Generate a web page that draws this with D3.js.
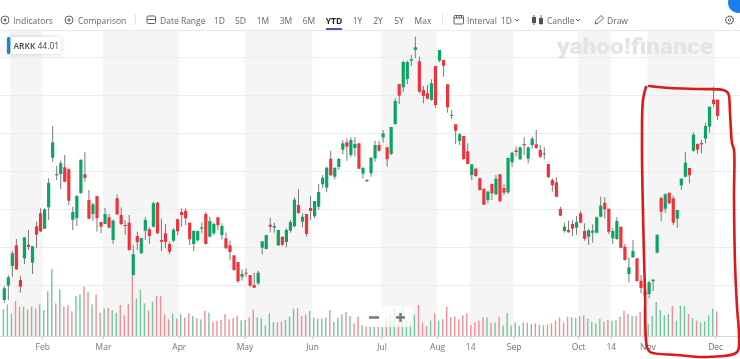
<!DOCTYPE html>
<html>
<head>
<meta charset="utf-8">
<script src="https://cdn.jsdelivr.net/npm/d3@7"></script>
<style>
html, body { margin: 0; padding: 0; background: #fff; }
svg { display: block; font-family: "Open Sans", sans-serif; filter: blur(0.35px); }
</style>
</head>
<body>
<div id="chart"></div>
<script>
// ARKK daily candles (price axis is cropped, so levels are estimates)
const opens = [
  25.60, 27.03, 29.00, 31.07, 27.60, 29.77, 31.13, 29.33, 32.97, 34.27,
  32.73, 34.87, 39.83, 38.07, 38.20, 38.87, 38.67, 33.63, 33.80, 36.30,
  38.17, 35.60, 34.20, 36.00, 33.40, 33.20, 33.87, 31.60, 35.77, 34.10,
  33.10, 33.33, 28.07, 32.00, 30.27, 32.53, 32.67, 32.93, 35.33, 31.60,
  32.27, 31.20, 31.53, 33.67, 34.40, 34.53, 33.33, 31.20, 31.57, 32.73,
  34.20, 31.93, 32.27, 33.87, 32.10, 31.77, 31.07, 30.07, 29.40, 27.93,
  28.33, 28.10, 27.10, 27.27, 30.83, 30.70, 33.13, 32.83, 31.07, 31.93,
  31.40, 32.53, 32.97, 35.10, 33.43, 34.20, 34.80, 33.97, 34.93, 37.17,
  36.83, 39.73, 37.93, 38.90, 40.63, 41.37, 40.10, 40.80, 41.27, 38.23,
  37.47, 38.27, 39.77, 41.10, 41.87, 40.87, 40.20, 43.20, 47.20, 46.87,
  47.70, 49.53, 50.60, 49.47, 46.60, 46.27, 45.60, 49.00, 49.53, 49.60,
  47.17, 44.00, 43.17, 41.50, 42.00, 40.47, 38.10, 38.73, 37.77, 36.73,
  35.60, 37.20, 36.17, 38.17, 36.80, 36.37, 39.37, 40.57, 39.67, 41.20,
  39.73, 41.10, 41.17, 40.60, 40.27, 39.20, 37.60, 37.37, 34.70, 32.50,
  32.60, 33.20, 32.83, 34.27, 32.50, 31.93, 32.33, 32.33, 33.93, 35.33,
  34.73, 31.77, 31.70, 32.93, 30.93, 28.20, 29.87, 29.77, 27.53, 26.43,
  26.20, 27.47, 30.33, 35.80, 34.73, 36.33, 35.77, 33.73, 37.07, 37.93,
  38.80, 40.53, 41.20, 41.30, 41.73, 42.93, 45.63, 45.63
];
const closes = [
  26.77, 27.87, 30.27, 28.67, 26.93, 31.87, 30.90, 30.97, 32.13, 32.47,
  34.67, 37.30, 41.37, 38.20, 39.27, 37.43, 35.53, 34.40, 36.00, 39.63,
  37.80, 33.73, 35.17, 33.77, 32.93, 34.20, 32.83, 33.53, 34.17, 33.20,
  33.07, 30.60, 30.17, 31.40, 31.80, 33.60, 32.00, 35.27, 32.27, 31.43,
  31.40, 30.43, 32.63, 32.47, 34.10, 33.77, 31.67, 32.53, 32.50, 32.87,
  31.20, 33.50, 33.20, 33.07, 33.00, 30.77, 30.40, 28.60, 27.47, 28.20,
  28.23, 27.03, 26.83, 28.33, 31.47, 32.10, 32.93, 33.00, 32.60, 31.13,
  32.60, 33.40, 35.63, 34.30, 33.93, 32.20, 34.50, 35.50, 36.40, 37.83,
  38.83, 38.07, 38.83, 39.70, 41.27, 40.93, 41.60, 41.20, 38.73, 38.80,
  37.60, 39.83, 41.10, 40.53, 42.27, 39.67, 42.90, 45.50, 46.03, 49.40,
  49.40, 49.67, 50.87, 46.43, 46.00, 45.73, 47.27, 45.10, 50.60, 49.03,
  44.87, 44.10, 42.53, 42.17, 39.70, 39.20, 39.17, 38.00, 36.60, 35.13,
  36.43, 36.27, 37.73, 35.47, 36.33, 39.80, 40.33, 40.40, 40.87, 41.07,
  40.87, 41.73, 40.80, 39.93, 40.20, 37.87, 37.07, 35.93, 34.03, 32.93,
  32.37, 32.73, 33.40, 33.33, 31.73, 32.57, 32.53, 33.87, 35.03, 34.67,
  32.43, 32.50, 33.50, 30.83, 29.60, 28.87, 30.50, 27.50, 26.80, 26.10,
  27.37, 27.63, 32.13, 34.43, 36.17, 35.27, 33.33, 34.60, 37.73, 39.33,
  38.07, 42.13, 40.63, 41.17, 43.00, 44.93, 45.20, 44.01
];
const highs = [
  27.00, 28.10, 30.50, 31.70, 28.03, 31.87, 32.60, 30.97, 33.43, 34.77,
  34.77, 37.77, 43.00, 39.00, 39.53, 40.10, 38.77, 34.93, 36.10, 39.63,
  40.40, 36.60, 35.33, 36.00, 33.40, 34.80, 34.20, 33.67, 36.17, 34.87,
  33.60, 34.10, 31.10, 32.43, 31.80, 33.87, 32.87, 35.43, 35.43, 33.73,
  33.20, 31.43, 32.77, 33.73, 34.77, 34.77, 33.33, 32.53, 32.50, 33.37,
  34.43, 33.93, 33.33, 33.93, 33.27, 32.33, 31.53, 30.07, 29.40, 28.67,
  28.77, 28.10, 28.33, 28.53, 31.47, 32.10, 33.83, 33.33, 32.60, 31.93,
  32.77, 33.60, 35.87, 36.67, 34.27, 34.20, 36.00, 35.50, 37.20, 38.10,
  38.93, 40.53, 38.83, 39.80, 41.60, 41.77, 41.87, 41.87, 41.27, 38.93,
  37.67, 39.87, 41.53, 41.53, 42.60, 40.87, 42.90, 45.77, 47.20, 49.53,
  49.53, 50.10, 51.93, 49.93, 47.00, 47.10, 47.67, 49.00, 50.60, 49.60,
  47.17, 44.60, 43.17, 42.27, 42.00, 41.27, 39.17, 38.83, 37.83, 36.73,
  36.53, 37.20, 38.10, 38.17, 37.17, 39.87, 40.43, 40.93, 40.93, 41.87,
  40.93, 41.93, 42.60, 41.10, 40.87, 39.20, 37.77, 37.87, 34.93, 33.33,
  33.53, 33.60, 34.00, 34.53, 33.27, 32.67, 33.17, 33.93, 35.93, 35.87,
  34.73, 32.77, 33.87, 32.93, 31.20, 29.87, 31.60, 29.77, 28.10, 26.87,
  27.50, 27.70, 32.13, 35.93, 36.27, 36.33, 36.03, 34.60, 37.73, 40.43,
  38.83, 42.37, 41.27, 41.60, 43.33, 44.93, 46.93, 45.63
];
const lows = [
  25.33, 25.60, 27.93, 28.60, 26.33, 29.20, 30.60, 28.20, 30.77, 32.40,
  32.70, 33.60, 39.43, 37.60, 36.70, 37.37, 35.10, 32.60, 33.00, 36.20,
  37.43, 33.67, 33.53, 32.43, 32.27, 33.20, 32.77, 31.20, 34.10, 33.10,
  32.10, 30.53, 28.07, 30.60, 30.20, 31.60, 31.20, 32.87, 32.20, 30.50,
  30.77, 30.17, 31.43, 32.10, 32.93, 33.10, 31.10, 30.50, 31.43, 32.27,
  31.13, 31.87, 32.10, 32.60, 31.67, 30.70, 29.60, 28.53, 27.33, 27.53,
  27.93, 26.93, 26.77, 27.10, 30.17, 30.67, 32.37, 32.33, 31.00, 31.00,
  30.87, 32.33, 32.87, 34.23, 32.87, 31.93, 33.60, 33.77, 34.60, 36.77,
  36.37, 38.00, 37.67, 38.60, 40.17, 39.53, 39.87, 39.93, 38.67, 37.77,
  37.43, 37.93, 39.43, 40.43, 41.33, 38.93, 40.10, 43.10, 45.20, 46.40,
  47.17, 49.00, 49.80, 46.27, 45.27, 45.67, 45.53, 44.83, 49.37, 47.93,
  44.33, 43.67, 41.20, 41.10, 39.60, 39.17, 37.60, 37.93, 36.53, 35.10,
  35.27, 35.60, 36.10, 35.43, 36.10, 36.20, 38.93, 39.93, 39.60, 40.10,
  39.27, 40.77, 40.73, 39.77, 39.67, 37.83, 36.43, 35.87, 34.03, 32.33,
  32.33, 32.00, 32.10, 33.27, 31.53, 31.10, 31.33, 32.27, 33.87, 33.77,
  32.20, 31.20, 31.60, 30.80, 29.53, 27.37, 29.80, 27.43, 26.27, 25.33,
  25.77, 26.50, 30.27, 33.50, 34.33, 35.20, 33.10, 32.83, 36.60, 37.87,
  37.27, 40.43, 40.20, 40.27, 41.27, 42.33, 44.93, 43.60
];
const volumes = [
  8.0, 9.5, 6.7, 10.5, 8.8, 8.8, 8.0, 8.8, 8.2, 9.5,
  7.8, 13.4, 20.1, 9.8, 14.0, 8.8, 9.2, 7.4, 12.0, 12.5,
  14.8, 13.3, 9.5, 12.5, 7.0, 8.2, 8.4, 7.7, 7.0, 9.3,
  6.2, 9.5, 18.0, 11.3, 13.8, 9.8, 7.6, 10.3, 12.0, 12.0,
  6.5, 5.0, 6.7, 5.2, 6.5, 5.5, 6.7, 6.0, 5.4, 5.0,
  7.6, 7.0, 4.2, 4.6, 4.8, 6.6, 5.0, 5.4, 6.1, 4.7,
  4.8, 5.6, 7.9, 5.6, 5.3, 3.2, 6.8, 4.2, 4.1, 4.3,
  4.8, 5.8, 8.2, 8.4, 6.0, 6.5, 7.5, 5.5, 5.2, 5.2,
  5.5, 7.8, 4.2, 5.4, 6.5, 7.2, 6.0, 3.8, 5.8, 3.2,
  3.0, 3.0, 3.0, 3.0, 2.8, 5.3, 6.3, 8.6, 6.8, 8.8,
  4.8, 4.3, 6.4, 9.3, 4.0, 3.0, 4.6, 6.8, 4.6, 5.0,
  8.7, 5.6, 5.9, 5.0, 6.2, 6.8, 3.3, 4.1, 4.6, 5.6,
  5.6, 4.0, 4.1, 5.8, 3.1, 6.9, 3.1, 4.0, 3.1, 4.1,
  4.0, 3.6, 3.8, 3.4, 3.2, 3.4, 3.8, 4.6, 5.6, 4.1,
  5.8, 5.6, 5.4, 6.0, 6.2, 5.2, 4.2, 3.8, 5.1, 4.3,
  4.8, 4.6, 4.7, 5.8, 7.6, 6.6, 6.0, 6.0, 7.2, 8.8,
  3.6, 6.0, 10.2, 7.8, 6.2, 6.5, 9.0, 4.6, 9.1, 9.0,
  6.6, 5.4, 4.6, 4.0, 4.4, 6.2, 8.2, 7.4
];
// days whose volume bar is coloured against the candle in the screenshot
const volumeOppositeDays = [9, 13, 17, 28, 32, 33, 44, 48, 52, 54, 60, 66, 68, 74, 76, 87, 90,
  111, 113, 116, 124, 127, 129, 130, 134, 139, 141, 155, 163, 165, 173, 176];

const tickDays = [9.4, 24.5, 43.3, 59.6, 76.4, 93.6, 107.4, 115.6, 126.4, 142.4, 150.5, 159.6, 176.4];
const tickLabels = ["Feb", "Mar", "Apr", "May", "Jun", "Jul", "Aug", "14", "Sep", "Oct", "14", "Nov", "Dec"];
const shadedDays = [[1.4, 9.4], [24.5, 43.3], [59.6, 76.4], [93.6, 107.4], [115.6, 126.4], [142.4, 150.5], [159.6, 176.4]];
const priceGrid = [49.9, 46.1, 42.3, 38.5, 34.7, 30.9, 27.1];

const ranges = ["1D", "5D", "1M", "3M", "6M", "YTD", "1Y", "2Y", "5Y", "Max"];
const rangeX = [219.5, 240.5, 263, 286, 309, 334, 357.5, 378, 399, 423];

const width = 740;
const height = 359;
const plotTop = 30;
const plotBottom = 336;
const upColor = "#0aa565";
const downColor = "#f0333b";

const svg = d3.select("#chart").append("svg")
    .attr("width", width)
    .attr("height", height);

const x = d3.scaleLinear().domain([0, 177]).range([4.3, 717.6]);
const y = d3.scaleLinear().domain([52.6, 22]).range([plotTop, plotBottom]);
const yVol = d3.scaleLinear().domain([0, 30]).range([plotBottom, plotBottom - 100]);

// Shaded month bands.
svg.append("g").selectAll("rect")
    .data(shadedDays)
    .enter()
    .append("rect")
    .attr("x", d => x(d[0]))
    .attr("y", plotTop)
    .attr("width", d => x(d[1]) - x(d[0]))
    .attr("height", plotBottom - plotTop)
    .attr("fill", "#f5f5f5");

// Horizontal grid.
svg.append("g").selectAll("line")
    .data(priceGrid)
    .enter()
    .append("line")
    .attr("x1", 0)
    .attr("x2", width)
    .attr("y1", d => Math.round(y(d)) + 0.5)
    .attr("y2", d => Math.round(y(d)) + 0.5)
    .attr("stroke", "#ececec");

// Watermark sits behind the candles.
svg.append("text")
    .attr("x", 557)
    .attr("y", 54)
    .attr("textLength", 156)
    .attr("lengthAdjust", "spacingAndGlyphs")
    .style("font-family", "Roboto, sans-serif")
    .style("font-size", "22px")
    .style("font-weight", 900)
    .attr("fill", "#e4e4e4")
    .text("yahoo!finance");

// X axis.
const axis = svg.append("g")
    .attr("transform", `translate(0,${plotBottom})`)
    .call(d3.axisBottom(x)
        .tickValues(tickDays)
        .tickFormat((d, i) => tickLabels[i])
        .tickSize(3)
        .tickPadding(5));
axis.select(".domain").attr("stroke", "#d8d8d8").attr("d", `M0,0.5H${width}`);
axis.selectAll(".tick line").attr("stroke", "#c8c8c8");
axis.selectAll("text")
    .attr("fill", "#6e757c")
    .style("font-family", "'Open Sans', sans-serif")
    .style("font-size", "8.5px");

// Volume bars.
svg.append("g").selectAll("rect")
    .data(volumes)
    .enter()
    .append("rect")
    .attr("x", (d, i) => x(i) - 1.6)
    .attr("y", d => yVol(d))
    .attr("width", 1.4)
    .attr("height", d => plotBottom - yVol(d))
    .attr("fill", (d, i) => {
        const up = closes[i] >= opens[i];
        const flip = volumeOppositeDays.includes(i);
        return (up !== flip) ? "#74c6a0" : "#ee8f95";
    });

// Candles: wick first, then the body on top.
const days = d3.range(opens.length);
const candles = svg.append("g").selectAll("g")
    .data(days)
    .enter()
    .append("g");

candles.append("line")
    .attr("x1", d => x(d))
    .attr("x2", d => x(d))
    .attr("y1", d => y(highs[d]))
    .attr("y2", d => y(lows[d]))
    .attr("stroke", "#6b6b6b")
    .attr("stroke-width", 0.9);

candles.append("rect")
    .attr("x", d => x(d) - 1.6)
    .attr("y", d => y(Math.max(opens[d], closes[d])))
    .attr("width", 3.2)
    .attr("height", d => Math.max(1, Math.abs(y(opens[d]) - y(closes[d]))))
    .attr("fill", d => closes[d] >= opens[d] ? upColor : downColor);

// Zoom buttons overlay.
svg.append("rect")
    .attr("x", 362)
    .attr("y", 306)
    .attr("width", 50)
    .attr("height", 21)
    .attr("rx", 3)
    .attr("fill", "#fff")
    .attr("opacity", 0.78);
svg.append("path")
    .attr("d", "M369,317.5H379M396,317.5H405M400.5,313V322")
    .attr("stroke", "#777")
    .attr("stroke-width", 2.4)
    .attr("fill", "none");

// Legend chip.
svg.append("rect")
    .attr("x", 7)
    .attr("y", 37)
    .attr("width", 54)
    .attr("height", 17)
    .attr("rx", 2)
    .attr("fill", "#fff")
    .style("filter", "drop-shadow(0 0 2px rgba(0,0,0,0.18))");
svg.append("rect")
    .attr("x", 7)
    .attr("y", 37)
    .attr("width", 3.4)
    .attr("height", 17)
    .attr("rx", 1.5)
    .attr("fill", "#1a7fe0");
svg.append("text")
    .attr("x", 13.5)
    .attr("y", 48.5)
    .attr("fill", "#3f464d")
    .style("font-size", "8.5px")
    .style("font-weight", 600)
    .text("ARKK");
svg.append("text")
    .attr("x", 37.5)
    .attr("y", 48.5)
    .attr("fill", "#3f464d")
    .style("font-size", "8.5px")
    .text("44.01");

// Toolbar.
const bar = svg.append("g").attr("fill", "#5f676e").style("font-size", "8.5px");
const icons = svg.append("g").attr("fill", "none").attr("stroke", "#5f676e").attr("stroke-width", 1);

function label(text, xPos, anchor) {
    return bar.append("text")
        .attr("x", xPos)
        .attr("y", 23.5)
        .attr("text-anchor", anchor || "start")
        .text(text);
}

svg.append("line").attr("x1", 0).attr("x2", width).attr("y1", 30.5).attr("y2", 30.5).attr("stroke", "#e6e8ea");

label("Indicators", 13.5);
label("Comparison", 78);
label("Date Range", 160);
label("Interval", 467);
label("1D", 501);
label("Candle", 547);
label("Draw", 607);

ranges.forEach((r, i) => {
    const t = label(r, rangeX[i], "middle");
    if (r === "YTD") t.attr("fill", "#1d2228").style("font-weight", 700);
});
svg.append("rect").attr("x", 326).attr("y", 28).attr("width", 16).attr("height", 2).attr("fill", "#5454b4");

// Separators.
[135.5, 442.5].forEach(s => {
    svg.append("line").attr("x1", s).attr("x2", s).attr("y1", 14).attr("y2", 25).attr("stroke", "#e0e2e4");
});

// Icons, hand placed in the toolbar.
icons.append("circle").attr("cx", 5).attr("cy", 20).attr("r", 4);
icons.append("circle").attr("cx", 5).attr("cy", 20).attr("r", 1.4).attr("fill", "#5f676e").attr("stroke", "none");
icons.append("circle").attr("cx", 69).attr("cy", 20).attr("r", 4);
icons.append("path").attr("d", "M67,20H71M69,18V22");
icons.append("rect").attr("x", 147).attr("y", 16).attr("width", 8.5).attr("height", 7.5).attr("rx", 1);
icons.append("path").attr("d", "M147,19.5H155.5");
icons.append("rect").attr("x", 454).attr("y", 15.5).attr("width", 9.5).attr("height", 8.5).attr("rx", 1);
icons.append("path").attr("d", "M454,18H463.5M456.5,15.5V18M459,15.5V18M461.5,15.5V18");
icons.append("path").attr("d", "M515,19l2,2l2,-2");
icons.append("path").attr("d", "M576,19l2,2l2,-2");
icons.append("path").attr("d", "M534,15V25M541,15V25");
svg.append("rect").attr("x", 532).attr("y", 17).attr("width", 4).attr("height", 6).attr("fill", "#4a5157");
svg.append("rect").attr("x", 539).attr("y", 18).attr("width", 4).attr("height", 6).attr("fill", "#4a5157");
icons.append("path").attr("d", "M595,24l1,-3.5l5,-5l2.5,2.5l-5,5z");
icons.append("circle").attr("cx", 729.5).attr("cy", 20).attr("r", 3.8).attr("stroke-dasharray", "2 0.6").attr("stroke-width", 1.4);
icons.append("circle").attr("cx", 729.5).attr("cy", 20).attr("r", 1.2);

svg.append("circle").attr("cx", 738).attr("cy", 3).attr("r", 10).attr("fill", "#1a7fe8");

// Red hand-drawn box from the screenshot's annotation.
const outline = [
    [649, 86], [670, 88], [700, 89], [723, 90], [728, 93], [730, 113], [732, 143], [734, 150],
    [734, 197], [735, 263], [737, 307], [739, 337], [737, 352], [707, 357], [677, 355], [650, 352],
    [647, 347], [645, 293], [643, 213], [642, 147], [643, 100], [646, 87]
];
svg.append("path")
    .attr("d", d3.line().curve(d3.curveCatmullRom)(outline))
    .attr("fill", "none")
    .attr("stroke", "#dc1a1a")
    .attr("stroke-width", 2.6)
    .attr("stroke-linecap", "round");
</script>
</body>
</html>
